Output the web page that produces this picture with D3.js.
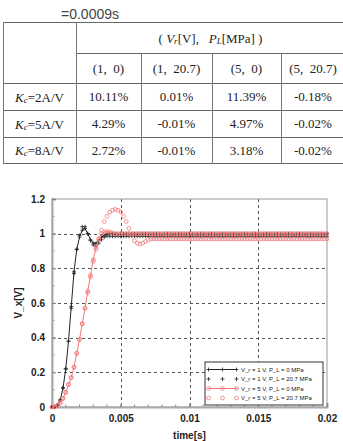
<!DOCTYPE html>
<html>
<head>
<meta charset="utf-8">
<script src="https://cdn.jsdelivr.net/npm/d3@7"></script>
<style>
  html, body { margin: 0; padding: 0; background: #fff; }
  svg { display: block; }
</style>
</head>
<body>
<div id="chart"></div>
<script>
// sampling step of the simulation output [s]
const dt = 0.0002;

// V_r = 1 V, P_L = 0 MPa
const v1p0 = [
  0, 0, 0.01, 0.04, 0.11, 0.22, 0.38, 0.58, 0.78, 0.91, 0.98, 1.02, 1.03, 1.0, 0.965, 0.945, 0.945, 0.96, 0.98, 0.99,
  1, 1, 1, 1, 1, 1, 1, 1, 1, 1, 1, 1, 1, 1, 1, 1, 1, 1, 1, 1,
  1, 1, 1, 1, 1, 1, 1, 1, 1, 1, 1, 1, 1, 1, 1, 1, 1, 1, 1, 1,
  1, 1, 1, 1, 1, 1, 1, 1, 1, 1, 1, 1, 1, 1, 1, 1, 1, 1, 1, 1,
  1, 1, 1, 1, 1, 1, 1, 1, 1, 1, 1, 1, 1, 1, 1, 1, 1, 1, 1, 1, 1
];
// V_r = 1 V, P_L = 20.7 MPa
const v1p20 = [
  0, 0, 0.01, 0.04, 0.11, 0.22, 0.38, 0.57, 0.77, 0.91, 0.99, 1.04, 1.04, 1.0, 0.96, 0.935, 0.93, 0.945, 0.965, 0.98,
  0.985, 0.985, 0.985, 0.985, 0.985, 0.985, 0.985, 0.985, 0.985, 0.985, 0.985, 0.985, 0.985, 0.985, 0.985, 0.985, 0.985, 0.985, 0.985, 0.985,
  0.985, 0.985, 0.985, 0.985, 0.985, 0.985, 0.985, 0.985, 0.985, 0.985, 0.985, 0.985, 0.985, 0.985, 0.985, 0.985, 0.985, 0.985, 0.985, 0.985,
  0.985, 0.985, 0.985, 0.985, 0.985, 0.985, 0.985, 0.985, 0.985, 0.985, 0.985, 0.985, 0.985, 0.985, 0.985, 0.985, 0.985, 0.985, 0.985, 0.985,
  0.985, 0.985, 0.985, 0.985, 0.985, 0.985, 0.985, 0.985, 0.985, 0.985, 0.985, 0.985, 0.985, 0.985, 0.985, 0.985, 0.985, 0.985, 0.985, 0.985, 0.985
];
// V_r = 5 V, P_L = 0 MPa
const v5p0 = [
  0, 0, 0.01, 0.025, 0.05, 0.085, 0.13, 0.17, 0.23, 0.31, 0.39, 0.48, 0.57, 0.67, 0.76, 0.85, 0.92, 0.97, 1.0, 1.01,
  1.012, 1.01, 1.005, 1, 1, 1, 1, 1, 1, 1, 1, 1, 1, 1, 1, 1, 1, 1, 1, 1,
  1, 1, 1, 1, 1, 1, 1, 1, 1, 1, 1, 1, 1, 1, 1, 1, 1, 1, 1, 1,
  1, 1, 1, 1, 1, 1, 1, 1, 1, 1, 1, 1, 1, 1, 1, 1, 1, 1, 1, 1,
  1, 1, 1, 1, 1, 1, 1, 1, 1, 1, 1, 1, 1, 1, 1, 1, 1, 1, 1, 1, 1
];
// V_r = 5 V, P_L = 20.7 MPa
const v5p20 = [
  0, 0, 0.01, 0.025, 0.05, 0.085, 0.13, 0.17, 0.23, 0.31, 0.39, 0.48, 0.57, 0.66, 0.75, 0.84, 0.91, 0.97, 1.02, 1.07,
  1.10, 1.125, 1.135, 1.14, 1.135, 1.125, 1.10, 1.07, 1.03, 0.99, 0.96, 0.945, 0.94, 0.945, 0.955, 0.965, 0.97, 0.97, 0.97, 0.97,
  0.97, 0.97, 0.97, 0.97, 0.97, 0.97, 0.97, 0.97, 0.97, 0.97, 0.97, 0.97, 0.97, 0.97, 0.97, 0.97, 0.97, 0.97, 0.97, 0.97,
  0.97, 0.97, 0.97, 0.97, 0.97, 0.97, 0.97, 0.97, 0.97, 0.97, 0.97, 0.97, 0.97, 0.97, 0.97, 0.97, 0.97, 0.97, 0.97, 0.97,
  0.97, 0.97, 0.97, 0.97, 0.97, 0.97, 0.97, 0.97, 0.97, 0.97, 0.97, 0.97, 0.97, 0.97, 0.97, 0.97, 0.97, 0.97, 0.97, 0.97, 0.97
];

const legendNames = [
  "V_r = 1 V, P_L = 0 MPa",
  "V_r = 1 V, P_L = 20.7 MPa",
  "V_r = 5 V, P_L = 0 MPa",
  "V_r = 5 V, P_L = 20.7 MPa"
];

const xTicks = [0, 0.005, 0.01, 0.015, 0.02];
const yTicks = [0, 0.2, 0.4, 0.6, 0.8, 1, 1.2];

// table
const colHeads = ["(1,  0)", "(1,  20.7)", "(5,  0)", "(5,  20.7)"];
const gainLabels = ["=2A/V", "=5A/V", "=8A/V"];
const overshoot = [
  ["10.11%", "0.01%", "11.39%", "-0.18%"],
  ["4.29%", "-0.01%", "4.97%", "-0.02%"],
  ["2.72%", "-0.01%", "3.18%", "-0.02%"]
];

const W = 343, H = 441;
const svg = d3.select("#chart").append("svg")
  .attr("width", W)
  .attr("height", H);

// ---------- top note + table ----------
svg.append("text")
  .attr("x", 61)
  .attr("y", 18.5)
  .attr("font-family", "Liberation Sans, Arial, sans-serif")
  .attr("font-size", "14px")
  .attr("fill", "#444")
  .text("=0.0009s");

const colX = [3, 76, 141, 212, 281, 345];
const rowY = [22, 53, 83, 110, 137, 163];
const serif = "Liberation Serif, Times New Roman, serif";
const tbl = svg.append("g");

const hl = (x1, x2, yy) => tbl.append("line")
  .attr("x1", x1).attr("x2", x2).attr("y1", yy + 0.5).attr("y2", yy + 0.5)
  .attr("stroke", "#666").attr("stroke-width", 1);
const vl = (xx, y1, y2) => tbl.append("line")
  .attr("x1", xx + 0.5).attr("x2", xx + 0.5).attr("y1", y1).attr("y2", y2)
  .attr("stroke", "#777").attr("stroke-width", 1);

hl(colX[0], colX[5], rowY[0]);
hl(colX[1], colX[5], rowY[1]);
[2, 3, 4, 5].forEach(r => hl(colX[0], colX[5], rowY[r]));
vl(colX[0], rowY[0], rowY[5] + 1);
vl(colX[1], rowY[0], rowY[5] + 1);
[2, 3, 4].forEach(i => vl(colX[i], rowY[1], rowY[5] + 1));

const cellText = (cx, cy) => tbl.append("text")
  .attr("x", cx).attr("y", cy)
  .attr("text-anchor", "middle")
  .attr("dominant-baseline", "central")
  .attr("font-family", serif)
  .attr("font-size", "13px")
  .attr("fill", "#222")
  .style("white-space", "pre");

// header "( Vr[V],  PL[MPa] )"
const head = cellText((colX[1] + colX[5]) / 2, (rowY[0] + rowY[1]) / 2);
head.append("tspan").text("( ");
head.append("tspan").attr("font-style", "italic").text("V");
head.append("tspan").attr("font-style", "italic").attr("font-size", "9px").attr("dy", 3).text("r");
head.append("tspan").attr("dy", -3).text("[V],   ");
head.append("tspan").attr("font-style", "italic").text("P");
head.append("tspan").attr("font-style", "italic").attr("font-size", "9px").attr("dy", 3).text("L");
head.append("tspan").attr("dy", -3).text("[MPa] )");

colHeads.forEach((c, i) => {
  cellText((colX[i + 1] + colX[i + 2]) / 2, (rowY[1] + rowY[2]) / 2).text(c);
});

gainLabels.forEach((g, r) => {
  const yc = (rowY[r + 2] + rowY[r + 3]) / 2;
  const t = cellText((colX[0] + colX[1]) / 2, yc);
  t.append("tspan").attr("font-style", "italic").text("K");
  t.append("tspan").attr("font-style", "italic").attr("font-size", "9px").attr("dy", 3).text("c");
  t.append("tspan").attr("dy", -3).text(g);
  overshoot[r].forEach((v, i) => {
    cellText((colX[i + 1] + colX[i + 2]) / 2, yc).text(v);
  });
});

// ---------- response chart ----------
const pLeft = 52, pRight = 327, pTop = 199, pBottom = 407;
const x = d3.scaleLinear().domain([0, 0.02]).range([pLeft, pRight]);
const y = d3.scaleLinear().domain([0, 1.2]).range([pBottom, pTop]);

const plot = svg.append("g");
const sans = "Liberation Sans, Arial, sans-serif";

// grid
plot.append("g").selectAll("line")
  .data(xTicks.slice(1, -1))
  .join("line")
  .attr("x1", d => Math.round(x(d)) + 0.5).attr("x2", d => Math.round(x(d)) + 0.5)
  .attr("y1", pTop).attr("y2", pBottom)
  .attr("stroke", "#555").attr("stroke-dasharray", "3,3");
plot.append("g").selectAll("line")
  .data(yTicks.slice(1, -1))
  .join("line")
  .attr("x1", pLeft).attr("x2", pRight)
  .attr("y1", d => Math.round(y(d)) + 0.5).attr("y2", d => Math.round(y(d)) + 0.5)
  .attr("stroke", "#555").attr("stroke-dasharray", "3,3");

// frame
plot.append("rect")
  .attr("x", pLeft).attr("y", pTop)
  .attr("width", pRight - pLeft).attr("height", pBottom - pTop)
  .attr("fill", "none").attr("stroke", "#999").attr("stroke-width", 1);

// minor ticks
const xMinor = d3.range(0, 0.02001, 0.001);
const yMinor = d3.range(0, 1.2001, 0.1);
plot.append("g").selectAll("line")
  .data(xMinor)
  .join("line")
  .attr("x1", d => x(d)).attr("x2", d => x(d))
  .attr("y1", pBottom).attr("y2", pBottom - 2.5)
  .attr("stroke", "#888");
plot.append("g").selectAll("line")
  .data(yMinor)
  .join("line")
  .attr("x1", pLeft).attr("x2", pLeft + 2.5)
  .attr("y1", d => y(d)).attr("y2", d => y(d))
  .attr("stroke", "#888");

// axes
const xAxis = plot.append("g")
  .attr("transform", `translate(0,${pBottom})`)
  .call(d3.axisBottom(x).tickValues(xTicks).tickFormat(d => String(d)).tickSize(-4).tickPadding(8));
const yAxis = plot.append("g")
  .attr("transform", `translate(${pLeft},0)`)
  .call(d3.axisLeft(y).tickValues(yTicks).tickFormat(d => String(d)).tickSize(-4).tickPadding(7));
[xAxis, yAxis].forEach(a => {
  a.select(".domain").attr("stroke", "#aaa").attr("stroke-width", 2);
  a.selectAll(".tick line").attr("stroke", "#888");
  a.selectAll("text")
    .attr("font-family", sans)
    .attr("font-size", "10px")
    .attr("font-weight", "bold")
    .attr("fill", "#222");
});

svg.append("text")
  .attr("x", (pLeft + pRight) / 2)
  .attr("y", 439)
  .attr("text-anchor", "middle")
  .attr("font-family", sans).attr("font-size", "10px").attr("font-weight", "bold")
  .attr("fill", "#222")
  .text("time[s]");
svg.append("text")
  .attr("transform", `translate(22,${(pTop + pBottom) / 2}) rotate(-90)`)
  .attr("text-anchor", "middle")
  .attr("font-family", sans).attr("font-size", "10px").attr("font-weight", "bold")
  .attr("fill", "#222")
  .text("V_x[V]");

// series
const pts = arr => arr.map((v, i) => [i * dt, v]);
const line = d3.line().x(d => x(d[0])).y(d => y(d[1]));
const plusPath = "M-2,0H2M0,-2V2";
const red = "#f47878";

const series = [
  { data: v1p0, color: "#222", line: true, marker: "plus" },
  { data: v1p20, color: "#222", line: false, marker: "plus" },
  { data: v5p0, color: red, line: true, marker: "circle" },
  { data: v5p20, color: red, line: false, marker: "circle" }
];

series.forEach(s => {
  const g = plot.append("g");
  const p = pts(s.data);
  if (s.line) {
    g.append("path")
      .attr("d", line(p))
      .attr("fill", "none")
      .attr("stroke", s.color)
      .attr("stroke-width", 1);
  }
  if (s.marker === "plus") {
    g.selectAll("path.m").data(p).join("path")
      .attr("class", "m")
      .attr("transform", d => `translate(${x(d[0])},${y(d[1])})`)
      .attr("d", plusPath)
      .attr("stroke", s.color).attr("stroke-width", 0.8).attr("fill", "none");
  } else {
    g.selectAll("circle").data(p).join("circle")
      .attr("cx", d => x(d[0])).attr("cy", d => y(d[1]))
      .attr("r", 1.9)
      .attr("fill", "none")
      .attr("stroke", s.color).attr("stroke-width", 0.8);
  }
});

// legend
const lg = svg.append("g").attr("transform", "translate(205,362)");
lg.append("rect")
  .attr("width", 118).attr("height", 43)
  .attr("fill", "#fff").attr("stroke", "#333").attr("stroke-width", 1);
series.forEach((s, i) => {
  const yy = 7.5 + i * 9.5;
  const row = lg.append("g").attr("transform", `translate(0,${yy})`);
  if (s.line) {
    row.append("line").attr("x1", 3).attr("x2", 32).attr("y1", 0).attr("y2", 0)
      .attr("stroke", s.color).attr("stroke-width", 1);
  }
  [3.5, 17.5, 31.5].forEach(mx => {
    if (s.marker === "plus") {
      row.append("path").attr("transform", `translate(${mx},0)`).attr("d", plusPath)
        .attr("stroke", s.color).attr("stroke-width", 0.8);
    } else {
      row.append("circle").attr("cx", mx).attr("cy", 0).attr("r", 1.9)
        .attr("fill", "none").attr("stroke", s.color).attr("stroke-width", 0.8);
    }
  });
  row.append("text")
    .attr("x", 36).attr("y", 0)
    .attr("dominant-baseline", "central")
    .attr("font-family", sans).attr("font-size", "6px")
    .attr("fill", "#222")
    .text(legendNames[i]);
});
</script>
</body>
</html>
